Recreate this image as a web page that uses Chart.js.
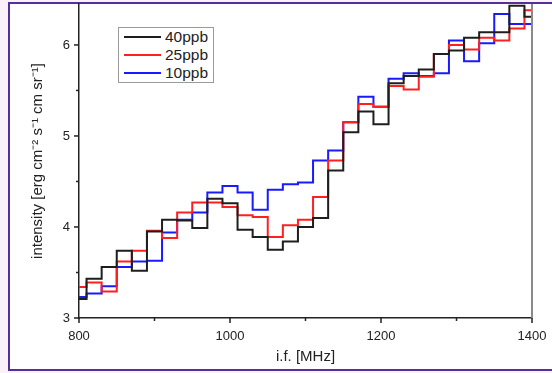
<!DOCTYPE html>
<html>
<head>
<meta charset="utf-8">
<script src="https://cdn.jsdelivr.net/npm/chart.js@4.4.1/dist/chart.umd.min.js"></script>
<style>
  html, body { margin: 0; padding: 0; background: #fbf1fb; }
  #frame { position: absolute; left: 8px; top: 2px; width: 570px; height: 365px;
           border: 2px solid #55309a; background: #fff; }
  #wrap { position: absolute; left: 0; top: 0; width: 552px; height: 373px; }
  #legend { position: absolute; left: 118px; top: 27px; width: 94px; height: 54px;
            border: 1px solid #9a9a9a; background: #fff;
            font-family: 'Liberation Sans', Arial, sans-serif; font-size: 15.5px; color: #222; }
  .item { height: 18px; line-height: 18px; position: relative; }
  .item span.line { position: absolute; left: 5px; top: 8px; width: 37px; height: 2px; }
  .item span.lab { position: absolute; left: 46px; top: 0; }
</style>
</head>
<body>
<div id="frame"></div>
<div id="wrap"><canvas id="myChart"></canvas></div>
<div id="legend"></div>
<script>
// bin centres (MHz), 20 MHz wide bins
const freqs = [800, 820, 840, 860, 880, 900, 920, 940, 960, 980, 1000, 1020, 1040, 1060, 1080,
               1100, 1120, 1140, 1160, 1180, 1200, 1220, 1240, 1260, 1280, 1300, 1320, 1340,
               1360, 1380, 1400];

const ppb40 = [3.21, 3.43, 3.56, 3.74, 3.52, 3.95, 4.08, 4.07, 3.99, 4.31, 4.26, 3.97, 3.89, 3.75, 3.84,
               4.00, 4.10, 4.62, 5.04, 5.27, 5.13, 5.58, 5.66, 5.73, 5.90, 5.94, 6.08, 6.14,
               6.14, 6.43, 6.31];
const ppb25 = [3.34, 3.39, 3.29, 3.62, 3.74, 3.96, 3.88, 4.16, 4.27, 4.27, 4.22, 4.13, 4.11, 3.89, 4.02,
               4.08, 4.33, 4.73, 5.15, 5.35, 5.32, 5.55, 5.51, 5.65, 5.90, 6.00, 5.95, 6.08,
               6.05, 6.18, 6.38];
const ppb10 = [3.23, 3.27, 3.35, 3.56, 3.62, 3.63, 3.94, 4.08, 4.16, 4.38, 4.45, 4.38, 4.19, 4.41, 4.47,
               4.49, 4.73, 4.84, 5.15, 5.43, 5.32, 5.63, 5.69, 5.66, 5.69, 6.05, 5.82, 6.02,
               6.34, 6.23, 6.23];

const seriesNames = ['40ppb', '25ppb', '10ppb'];
const seriesColors = ['#1e1e1e', '#ff1f1f', '#1a1aff'];
const seriesValues = [ppb40, ppb25, ppb10];

const xTicks = [800, 900, 1000, 1100, 1200, 1300, 1400];
const yTicks = [3, 3.5, 4, 4.5, 5, 5.5, 6];

const FONT = "'Liberation Sans', Arial, sans-serif";

// legend as html
const legend = document.getElementById('legend');
seriesNames.forEach((name, i) => {
    legend.insertAdjacentHTML('beforeend',
        '<div class="item"><span class="line" style="background:' + seriesColors[i] + '"></span>' +
        '<span class="lab">' + name + '</span></div>');
});

// outward ticks (major longer than minor) and the grey right frame line
const tickPlugin = {
    id: 'ticks',
    afterDraw(chart) {
        const ctx = chart.ctx;
        const xs = chart.scales.x, ys = chart.scales.y;
        const area = chart.chartArea;
        ctx.save();
        ctx.strokeStyle = '#222';
        ctx.lineWidth = 1.5;
        xTicks.forEach(v => {
            const px = xs.getPixelForValue(v);
            const len = v % 200 === 0 ? 5 : 3;
            ctx.beginPath();
            ctx.moveTo(px, area.bottom);
            ctx.lineTo(px, area.bottom + len);
            ctx.stroke();
        });
        yTicks.forEach(v => {
            const py = ys.getPixelForValue(v);
            const len = Number.isInteger(v) ? 5 : 3;
            ctx.beginPath();
            ctx.moveTo(area.left, py);
            ctx.lineTo(area.left - len, py);
            ctx.stroke();
        });
        ctx.strokeStyle = '#8a8a8a';
        ctx.lineWidth = 2;
        ctx.beginPath();
        ctx.moveTo(area.right, area.top);
        ctx.lineTo(area.right, area.bottom);
        ctx.stroke();
        ctx.restore();
    }
};

const ctx = document.getElementById('myChart').getContext('2d');
new Chart(ctx, {
    type: 'line',
    data: {
        datasets: seriesNames.map((name, i) => ({
            label: name,
            data: freqs.map((f, j) => ({ x: f, y: seriesValues[i][j] })),
            borderColor: seriesColors[i],
            borderWidth: 2,
            stepped: 'middle',
            pointRadius: 0,
            fill: false
        }))
    },
    options: {
        responsive: true,
        maintainAspectRatio: false,
        animation: false,
        layout: { padding: { left: 0, right: 20, top: 4, bottom: 0 } },
        plugins: {
            legend: { display: false },
            tooltip: { enabled: false }
        },
        scales: {
            x: {
                type: 'linear',
                min: 800,
                max: 1400,
                grid: { display: false, drawTicks: false },
                border: { display: true, color: '#222', width: 1.5 },
                afterFit: s => { s.height = 55; s.paddingLeft = 0; s.paddingRight = 0; },
                ticks: {
                    stepSize: 100,
                    padding: 11,
                    color: '#222',
                    font: { family: FONT, size: 13 },
                    maxRotation: 0,
                    callback: v => (v % 200 === 0 ? String(v) : '')
                },
                title: {
                    display: true,
                    text: 'i.f. [MHz]',
                    color: '#222',
                    font: { family: FONT, size: 15 },
                    padding: { top: 0, bottom: 7 }
                }
            },
            y: {
                min: 3,
                max: 6.45,
                grid: { display: false, drawTicks: false },
                border: { display: true, color: '#222', width: 1.5 },
                afterFit: s => { s.width = 79; s.paddingTop = 0; s.paddingBottom = 0; },
                ticks: {
                    stepSize: 0.5,
                    padding: 9,
                    color: '#222',
                    font: { family: FONT, size: 13 },
                    callback: v => (Number.isInteger(v) ? String(v) : '')
                },
                title: {
                    display: true,
                    text: 'intensity [erg cm\u207B\u00B2 s\u207B\u00B9 cm sr\u207B\u00B9]',
                    color: '#222',
                    font: { family: FONT, size: 15 },
                    padding: { top: 29, bottom: 0 }
                }
            }
        }
    },
    plugins: [tickPlugin]
});
</script>
</body>
</html>
